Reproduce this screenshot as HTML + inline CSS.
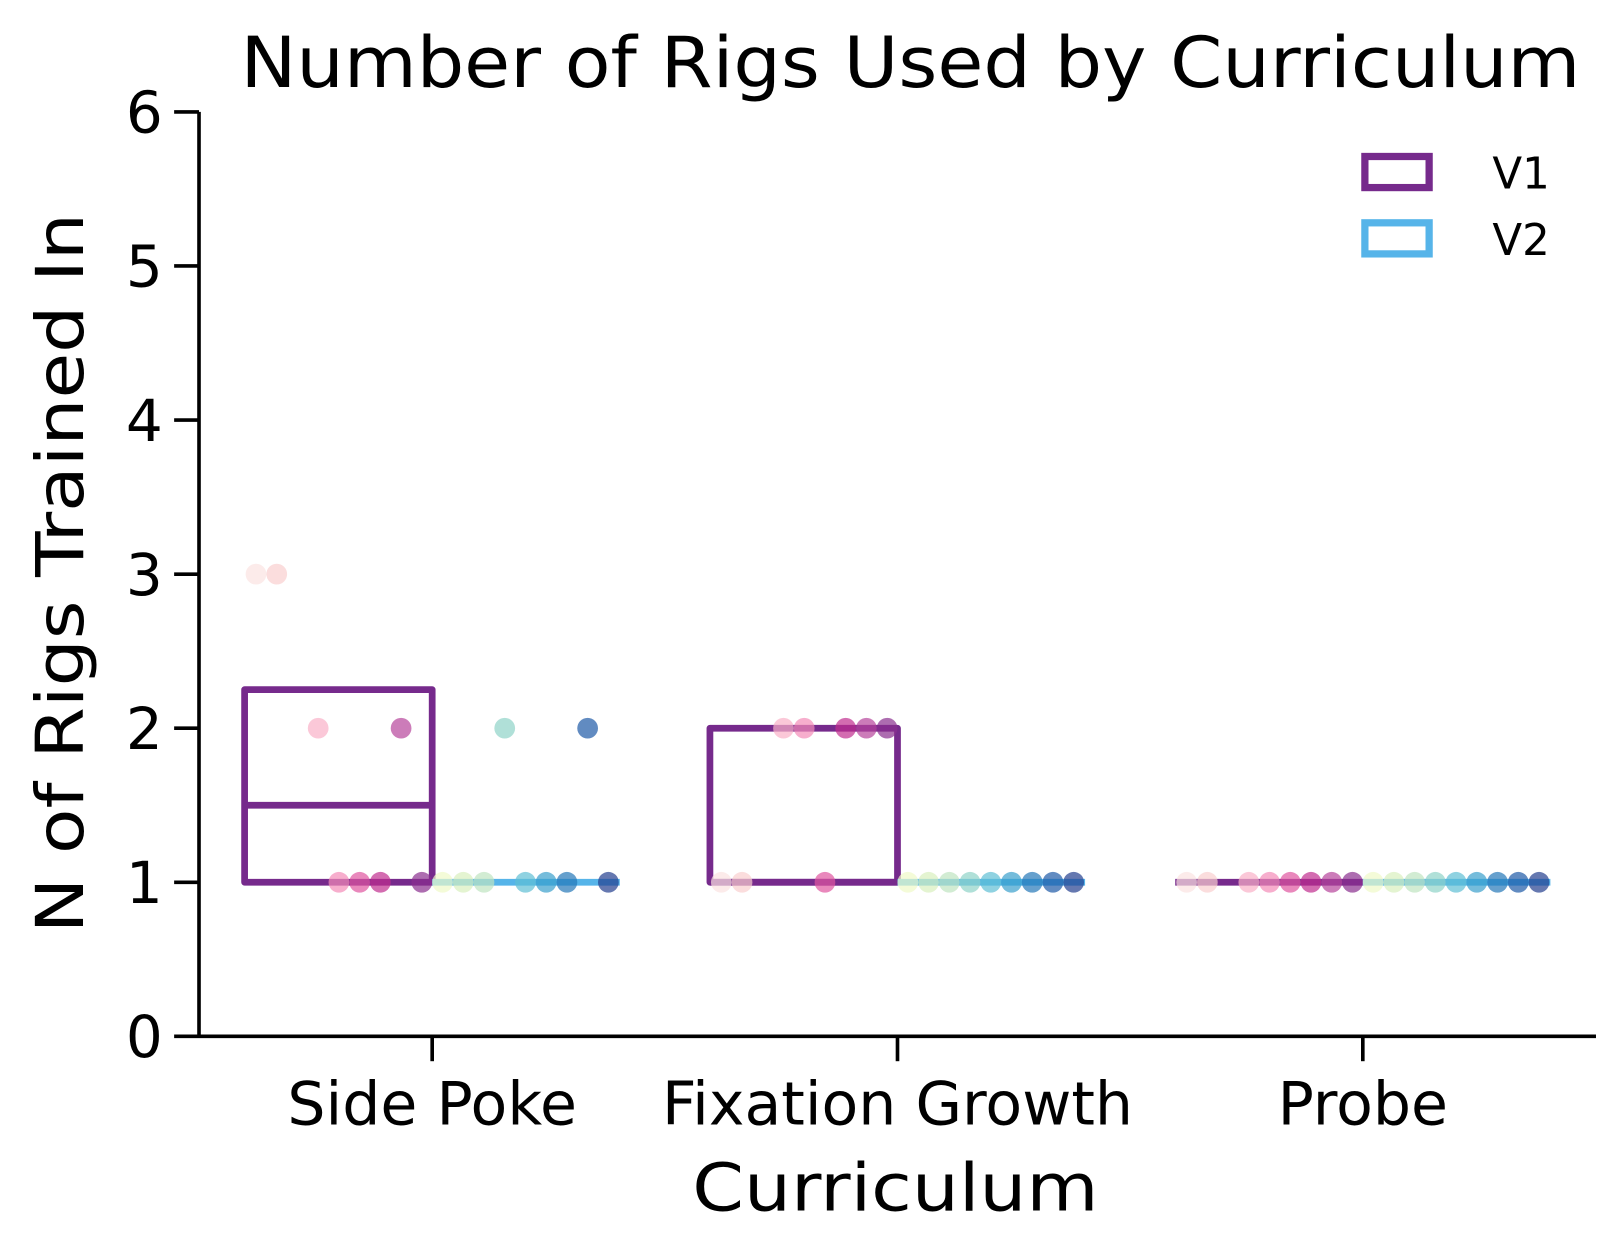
<!DOCTYPE html>
<html><head><meta charset="utf-8"><style>
html,body{margin:0;padding:0;background:#fff}
svg{display:block;font-family:"DejaVu Sans","Liberation Sans",sans-serif}
</style></head><body>
<svg id="chart" width="1624" height="1255" viewBox="0 0 1567 1211" xmlns="http://www.w3.org/2000/svg">
<rect width="1567" height="1211" fill="#fff"/>
<text x="232" y="84" font-size="68" textLength="1293" lengthAdjust="spacingAndGlyphs">Number of Rigs Used by Curriculum</text>
<text transform="translate(80,553) rotate(-90)" text-anchor="middle" font-size="64" textLength="695" lengthAdjust="spacingAndGlyphs">N of Rigs Trained In</text>
<text x="864" y="1168" text-anchor="middle" font-size="64" textLength="392" lengthAdjust="spacingAndGlyphs">Curriculum</text>
<g id="axes"></g>
<g id="boxes"></g>
<g id="dots"></g>
<g>
<rect x="1317" y="151" width="62" height="30" fill="none" stroke="#762a8c" stroke-width="7"/>
<text x="1440" y="182" font-size="42">V1</text>
<rect x="1317" y="215" width="62" height="30" fill="none" stroke="#56b4e9" stroke-width="7"/>
<text x="1440" y="246" font-size="42">V2</text>
</g>
</svg>
<script>
const categories = ["Side Poke","Fixation Growth","Probe"];
const yTicks = [0,1,2,3,4,5,6];
const subjectIdx = [0,1,3,4,5,6,7,8,9,10,11,12,13,14,15,16,17];
const subjectColors = ["#fbe3e1","#f9cfcf","#f9b0c8","#f48bb8","#e0569f","#c02d8f","#b6459b","#8a2f8f","#f0f9c8","#d8efbe","#bfe4c0","#8fd3c8","#5fbfd4","#3aa0cc","#2577b8","#1e5aa6","#243f8e"];
const sidePokeValues = [3,3,2,1,1,1,2,1,1,1,1,2,1,1,1,2,1];
const fixationValues = [1,1,2,2,1,2,2,2,1,1,1,1,1,1,1,1,1];
const probeValues = [1,1,1,1,1,1,1,1,1,1,1,1,1,1,1,1,1];
const v1Q1 = [1,1,1], v1Med = [1.5,1,1], v1Q3 = [2.25,2,1];
const v2Q1 = [1,1,1], v2Med = [1,1,1], v2Q3 = [1,1,1];

const NS="http://www.w3.org/2000/svg";
const x0=192,x1=1540,y0=1000,y6=108;
const yScale=v=>y0-(v/6)*(y0-y6);
const catX=i=>417+i*449;
const dotX=(c,s)=>catX(c)-170+20*s;
function mk(tag,attrs,parent){const e=document.createElementNS(NS,tag);for(const k in attrs)e.setAttribute(k,attrs[k]);parent.appendChild(e);return e;}
const axes=document.getElementById('axes');
let e=mk('line',{x1:x0,y1:y6,x2:x0,y2:y0,stroke:'#000','stroke-width':3.5},axes);


e=mk('line',{x1:x0,y1:y0,x2:x1,y2:y0,stroke:'#000','stroke-width':3.5},axes);


yTicks.forEach(t=>{const y=yScale(t);
 const l=mk('line',{x1:x0-24,y1:y,x2:x0,y2:y,stroke:'#000','stroke-width':3.5},axes);
 
 
 const tx=mk('text',{x:157,y:y+20,'text-anchor':'end','font-size':56},axes);tx.textContent=t;
 
 
});
categories.forEach((c,i)=>{const x=catX(i);
 const l=mk('line',{x1:x,y1:y0,x2:x,y2:y0+24,stroke:'#000','stroke-width':3.5},axes);
 
 
 const tx=mk('text',{x:x,y:1085,'text-anchor':'middle','font-size':58},axes);tx.textContent=c;
 
 
});
const boxes=document.getElementById('boxes');
function box(i,q1,med,q3,color,left,name){
 const xa=left?catX(i)-181:catX(i), xb=left?catX(i):catX(i)+181;
 const g=mk('g',{},boxes);
 
 
 mk('rect',{x:xa,y:yScale(q3),width:xb-xa,height:Math.max(0,yScale(q1)-yScale(q3)),fill:'none',stroke:color,'stroke-width':6.5,'stroke-linejoin':'round'},g);
 mk('line',{x1:xa,y1:yScale(med),x2:xb,y2:yScale(med),stroke:color,'stroke-width':6.5},g);
}
categories.forEach((c,i)=>{box(i,v1Q1[i],v1Med[i],v1Q3[i],'#762a8c',true,'box-v1');box(i,v2Q1[i],v2Med[i],v2Q3[i],'#56b4e9',false,'box-v2');});
const dots=document.getElementById('dots');
[sidePokeValues,fixationValues,probeValues].forEach((vals,c)=>{
 vals.forEach((v,k)=>{
  const d=mk('circle',{cx:dotX(c,subjectIdx[k]),cy:yScale(v),r:10,fill:subjectColors[k],'fill-opacity':0.7},dots);
  
  
 });
});
</script>
</body></html>
